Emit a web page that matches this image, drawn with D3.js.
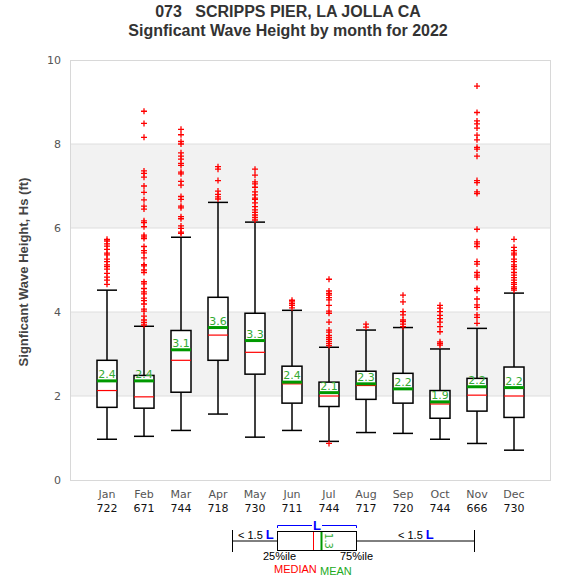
<!DOCTYPE html>
<html><head><meta charset="utf-8">
<script src="https://cdn.jsdelivr.net/npm/d3@7"></script>
<style>body{margin:0;background:#fff}svg{display:block}</style>
</head><body>
<script>
const months = ["Jan","Feb","Mar","Apr","May","Jun","Jul","Aug","Sep","Oct","Nov","Dec"];
const counts = [722,671,744,718,730,711,744,717,720,744,666,730];
const whiskerLow  = [0.97,1.04,1.18,1.57,1.02,1.18,0.92,1.13,1.11,0.97,0.87,0.71];
const q1          = [1.73,1.71,2.09,2.85,2.52,1.83,1.75,1.92,1.83,1.47,1.64,1.49];
const median      = [2.13,1.98,2.85,3.45,3.04,2.29,2.00,2.25,2.16,1.81,2.02,2.00];
const mean        = [2.36,2.36,3.10,3.63,3.32,2.33,2.08,2.29,2.17,1.86,2.22,2.20];
const q3          = [2.85,2.49,3.56,4.35,3.97,2.71,2.33,2.59,2.54,2.13,2.42,2.69];
const whiskerHigh = [4.52,3.66,5.78,6.61,6.14,4.04,3.16,3.57,3.63,3.12,3.61,4.45];
const meanLabels  = ["2.4","2.4","3.1","3.6","3.3","2.4","2.1","2.3","2.2","1.9","2.2","2.2"];
const outliers = [
  [5.73,5.69,5.62,5.57,5.49,5.40,5.36,5.26,5.20,5.12,5.08,5.02,4.92,4.83,4.76,4.66],
  [8.78,8.49,8.16,7.36,7.30,7.21,7.00,6.85,6.67,6.52,6.45,6.17,6.13,6.03,5.83,5.79,5.75,5.56,5.46,5.41,5.29,5.13,5.10,5.00,4.94,4.72,4.67,4.56,4.48,4.43,4.33,4.27,4.19,4.07,4.02,3.90,3.81,3.75,3.69],
  [8.35,8.22,8.06,8.00,7.79,7.71,7.64,7.54,7.49,7.33,7.29,7.11,7.02,6.75,6.68,6.52,6.48,6.27,6.22,6.05,5.99,5.90,5.87],
  [7.46,7.40,7.13,6.88,6.80,6.74,6.69],
  [7.40,7.26,7.10,7.05,6.97,6.86,6.79,6.71,6.68,6.60,6.51,6.43,6.37,6.31,6.25,6.19],
  [4.28,4.24,4.20,4.16,4.10],
  [4.78,4.50,4.44,4.40,4.34,4.29,4.16,4.02,3.97,3.76,3.57,3.52,3.44,3.39,3.35,3.30,3.25,3.20,0.87],
  [3.71,3.64],
  [4.40,4.24,4.01,3.93,3.81,3.77,3.71,3.65],
  [4.16,4.09,4.01,3.92,3.84,3.76,3.65,3.53,3.29,3.25,3.21],
  [9.38,8.75,8.55,8.48,8.38,8.21,8.10,7.92,7.88,7.71,7.13,7.08,6.86,6.82,5.97,5.67,5.62,5.56,5.20,5.14,4.94,4.88,4.83,4.56,4.51,4.31,4.17,4.11,3.93,3.87,3.73],
  [5.73,5.54,5.46,5.40,5.36,5.26,5.20,5.12,5.08,5.02,4.94,4.88,4.82,4.76,4.70,4.66,4.60,4.56,4.52]
];
const yTicks = [0,2,4,6,8,10];
const bands = [[2,4],[6,8]];

const W = 575, H = 580;
const svg = d3.select("body").append("svg").attr("width", W).attr("height", H);
const x = d3.scaleLinear().domain([0, 13]).range([70, 551]);
const y = d3.scaleLinear().domain([0, 10]).range([480, 60]);
const boxW = 20;

// bands
svg.selectAll("rect.band").data(bands).join("rect")
  .attr("x", 70).attr("width", 480)
  .attr("y", d => y(d[1])).attr("height", d => y(d[0]) - y(d[1]))
  .attr("fill", "#f2f2f2");
// gridlines
svg.selectAll("line.grid").data(yTicks.slice(1, -1)).join("line")
  .attr("x1", 70).attr("x2", 550).attr("y1", d => y(d)).attr("y2", d => y(d))
  .attr("stroke", "#dedede").attr("stroke-width", 1);
// frame
svg.append("rect").attr("x", 70.5).attr("y", y(10) + 0.5).attr("width", 480).attr("height", y(0) - y(10))
  .attr("fill", "none").attr("stroke", "#d8d8d8").attr("stroke-width", 1);

// y axis
const yAxis = d3.axisLeft(y).tickValues(yTicks).tickSize(0).tickPadding(9);
const gy = svg.append("g").attr("transform", "translate(70,0)").call(yAxis);
gy.select(".domain").remove();
gy.selectAll("text").attr("font-family", "DejaVu Sans, sans-serif").attr("font-size", 11).attr("fill", "#555");

// titles
svg.append("text").attr("x", 288).attr("y", 17).attr("text-anchor", "middle")
  .style("white-space", "pre")
  .attr("font-family", "Liberation Sans, Arial, sans-serif").attr("font-weight", "bold").attr("font-size", 16).attr("fill", "#333")
  .text("073   SCRIPPS PIER, LA JOLLA CA");
svg.append("text").attr("x", 288).attr("y", 36).attr("text-anchor", "middle")
  .attr("font-family", "Liberation Sans, Arial, sans-serif").attr("font-weight", "bold").attr("font-size", 16).attr("fill", "#333")
  .text("Signficant Wave Height by month for 2022");
svg.append("text").attr("transform", `translate(28,${(y(0)+y(10))/2 + 2}) rotate(-90)`).attr("text-anchor", "middle")
  .attr("font-family", "Liberation Sans, Arial, sans-serif").attr("font-weight", "bold").attr("font-size", 13).attr("fill", "#444")
  .text("Signficant Wave Height, Hs (ft)");

// x labels
const idx = d3.range(months.length);
svg.selectAll("text.mon").data(idx).join("text")
  .attr("x", i => x(i + 1)).attr("y", 498).attr("text-anchor", "middle")
  .attr("font-family", "DejaVu Sans, sans-serif").attr("font-size", 11).attr("fill", "#555")
  .text(i => months[i]);
svg.selectAll("text.cnt").data(idx).join("text")
  .attr("x", i => x(i + 1)).attr("y", 512).attr("text-anchor", "middle")
  .attr("font-family", "DejaVu Sans, sans-serif").attr("font-size", 11).attr("fill", "#111")
  .text(i => counts[i]);

// boxes
const g = svg.selectAll("g.box").data(idx).join("g").attr("transform", i => `translate(${x(i + 1)},0)`);
g.append("line").attr("x1", 0).attr("x2", 0).attr("y1", i => y(whiskerHigh[i])).attr("y2", i => y(q3[i])).attr("stroke", "#000").attr("stroke-width", 1.5);
g.append("line").attr("x1", 0).attr("x2", 0).attr("y1", i => y(q1[i])).attr("y2", i => y(whiskerLow[i])).attr("stroke", "#000").attr("stroke-width", 1.5);
g.append("line").attr("x1", -boxW/2).attr("x2", boxW/2).attr("y1", i => y(whiskerHigh[i])).attr("y2", i => y(whiskerHigh[i])).attr("stroke", "#000").attr("stroke-width", 1.5);
g.append("line").attr("x1", -boxW/2).attr("x2", boxW/2).attr("y1", i => y(whiskerLow[i])).attr("y2", i => y(whiskerLow[i])).attr("stroke", "#000").attr("stroke-width", 1.5);
g.append("rect").attr("x", -boxW/2).attr("width", boxW).attr("y", i => y(q3[i])).attr("height", i => y(q1[i]) - y(q3[i]))
  .attr("fill", "#fff").attr("stroke", "#000").attr("stroke-width", 1.5);
g.append("line").attr("x1", -boxW/2).attr("x2", boxW/2).attr("y1", i => y(median[i])).attr("y2", i => y(median[i])).attr("stroke", "#ff0000").attr("stroke-width", 1.2);
g.append("line").attr("x1", -boxW/2).attr("x2", boxW/2).attr("y1", i => y(mean[i])).attr("y2", i => y(mean[i])).attr("stroke", "#009900").attr("stroke-width", 3);
g.append("text").attr("x", 0).attr("y", i => y(mean[i]) - 3).attr("text-anchor", "middle")
  .attr("font-family", "DejaVu Sans, sans-serif").attr("font-size", 11).attr("fill", "#33aa33")
  .text(i => meanLabels[i]);
// outliers
g.each(function(i) {
  d3.select(this).selectAll("path.out").data(outliers[i]).join("path")
    .attr("d", v => `M-3,${y(v)}H3M0,${y(v) - 3}V${y(v) + 3}`)
    .attr("stroke", "#ff0000").attr("stroke-width", 1.3).attr("fill", "none");
});

// legend
const L = svg.append("g").attr("font-family", "Liberation Sans, Arial, sans-serif").attr("font-size", 11);
L.append("line").attr("x1", 232.5).attr("x2", 277).attr("y1", 541).attr("y2", 541).attr("stroke", "#000");
L.append("line").attr("x1", 232.5).attr("x2", 232.5).attr("y1", 530).attr("y2", 552).attr("stroke", "#000");
L.append("line").attr("x1", 357).attr("x2", 474.5).attr("y1", 541).attr("y2", 541).attr("stroke", "#000");
L.append("line").attr("x1", 474.5).attr("x2", 474.5).attr("y1", 530).attr("y2", 552).attr("stroke", "#000");
L.append("rect").attr("x", 277.5).attr("y", 531.5).attr("width", 79).attr("height", 19).attr("fill", "#fff").attr("stroke", "#000");
L.append("line").attr("x1", 313.5).attr("x2", 313.5).attr("y1", 532).attr("y2", 550).attr("stroke", "#ff0000");
L.append("line").attr("x1", 321.5).attr("x2", 321.5).attr("y1", 532).attr("y2", 550).attr("stroke", "#009900").attr("stroke-width", 2);
L.append("text").attr("transform", "translate(325,541) rotate(90)").attr("text-anchor", "middle")
  .attr("font-family", "DejaVu Sans, sans-serif").attr("font-size", 10).attr("fill", "#33aa33").text("1.3");
L.append("path").attr("d", "M277.5,528V525.5H312M322,525.5H356.5V528").attr("stroke", "#0000ff").attr("fill", "none");
L.append("text").attr("x", 317).attr("y", 530).attr("text-anchor", "middle").attr("font-weight", "bold").attr("font-size", 13).attr("fill", "#0000ff").text("L");
const lt1 = L.append("text").attr("x", 238).attr("y", 539).attr("fill", "#000");
lt1.append("tspan").text("< 1.5 ");
lt1.append("tspan").attr("font-weight", "bold").attr("font-size", 13).attr("fill", "#0000ff").text("L");
const lt2 = L.append("text").attr("x", 398).attr("y", 539).attr("fill", "#000");
lt2.append("tspan").text("< 1.5 ");
lt2.append("tspan").attr("font-weight", "bold").attr("font-size", 13).attr("fill", "#0000ff").text("L");
L.append("text").attr("x", 263).attr("y", 560).attr("fill", "#000").text("25%ile");
L.append("text").attr("x", 340).attr("y", 560).attr("fill", "#000").text("75%ile");
L.append("text").attr("x", 274).attr("y", 573).attr("fill", "#ff0000").text("MEDIAN");
L.append("text").attr("x", 320).attr("y", 575).attr("fill", "#22aa22").text("MEAN");
</script>
</body></html>
